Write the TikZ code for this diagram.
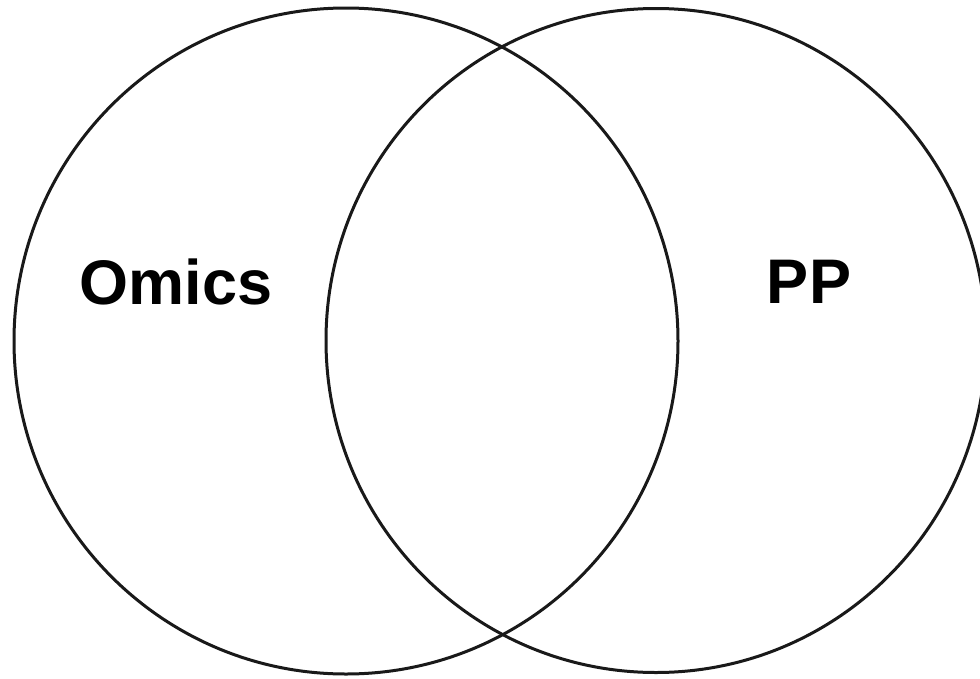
\documentclass[tikz,border=0pt]{standalone}
\usepackage{fontspec}
\setmainfont{Liberation Sans}
\begin{document}
\begin{tikzpicture}[x=1pt,y=-1pt,
  ring/.style={draw=black!90,line width=3pt},
  lbl/.style={font=\fontsize{63}{70}\selectfont\bfseries,inner sep=0pt}]
\useasboundingbox (0,0) rectangle (980,678);
\clip (0,0) rectangle (980,678);
\fill[white] (0,0) rectangle (980,678);
\draw[ring] (346,341) ellipse [x radius=332,y radius=333];
\draw[ring] (656,340.5) ellipse [x radius=330,y radius=332];
\node[lbl] (omics) at (176,282) {Omics};
\node[lbl] (pp) at (809,282) {PP};
\end{tikzpicture}
\end{document}
